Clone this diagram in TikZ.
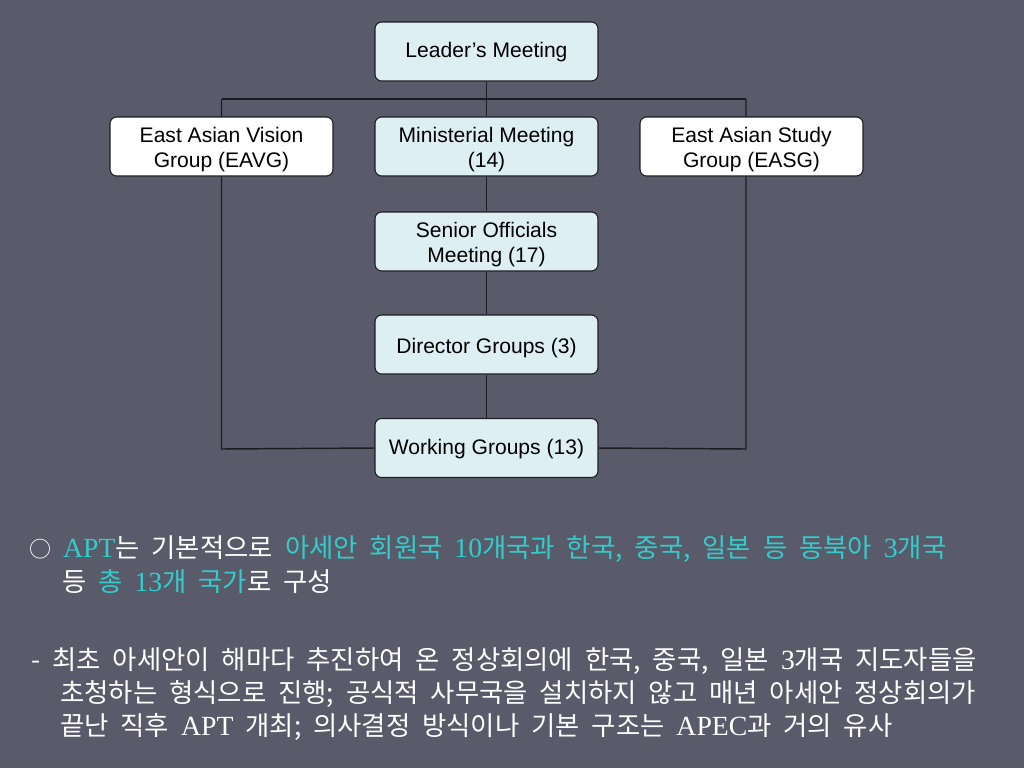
\documentclass[tikz,border=0pt]{standalone}
\usepackage{fontspec}
\setmainfont{Liberation Sans}
\newfontfamily\kr{Noto Sans CJK KR}
\newfontfamily\krl[Scale=1.05]{Liberation Serif}
\usetikzlibrary{backgrounds}
\definecolor{bg}{HTML}{595B6A}
\definecolor{lb}{HTML}{DDEFF2}
\definecolor{cy}{HTML}{33CCCC}
\definecolor{ln}{HTML}{1C1C22}
\newcommand\krfont{\kr\fontsize{19.8}{22}\selectfont\spaceskip 0.45em\relax}
\newcommand\upstrut{\rule{0pt}{16.4pt}}
\newcommand\smallstrut{\rule{0pt}{13pt}}
\newcommand\circmark{{\fontsize{16.5}{16.5}\selectfont ○}}
\begin{document}
\begin{tikzpicture}[x=0.75pt,y=-0.75pt,
  box/.style={draw=ln, line width=0.8pt, rounded corners=5pt, fill=lb,
    minimum width=167.25pt, minimum height=44.25pt, inner sep=0pt,
    align=center, font=\fontsize{15.8}{19}\selectfont, text=black},
  wbox/.style={box, fill=white},
  conn/.style={draw=ln, line width=1.1pt},
  txt/.style={anchor=base west, inner sep=0pt, text=white, font=\krfont}]
\useasboundingbox (0,0) rectangle (1024,768);
\node[box]  (lead) at (486.5,51.5)  {\smallstrut Leader’s Meeting};
\node[wbox] (eavg) at (221.5,146.5) {\upstrut East Asian Vision\\Group (EAVG)};
\node[box]  (mini) at (486.5,146.5) {\upstrut Ministerial Meeting\\(14)};
\node[wbox] (easg) at (751.5,146.5) {\upstrut East Asian Study\\Group (EASG)};
\node[box]  (som)  at (486.5,241.5) {\upstrut Senior Officials\\Meeting (17)};
\node[box]  (dir)  at (486.5,344.5) {\upstrut Director Groups (3)};
\node[box]  (wg)   at (486.5,448)   {\smallstrut Working Groups (13)};
\coordinate (bl) at (221.5,99);
\coordinate (bm) at (486.5,99);
\coordinate (br) at (746,99);
\coordinate (blb) at (221.5,449);
\coordinate (brb) at (746,449);
\begin{scope}[on background layer]
  \fill[bg] (0,0) rectangle (1024,768);
  \draw[conn] (bl) -- (br);
  \draw[conn] (lead.south) -- (bm) -- (mini.north);
  \draw[conn] (bl) -- (blb) -- (wg.west);
  \draw[conn] (br) -- (brb) -- (wg.east);
  \draw[conn] (mini.south) -- (som.north);
  \draw[conn] (som.south) -- (dir.north);
  \draw[conn] (dir.south) -- (wg.north);
\end{scope}
\node[txt] (t1) at (29,557) {\circmark{} \textcolor{cy}{{\krl APT}}는 기본적으로 \textcolor{cy}{아세안 회원국 {\krl 10}개국과 한국, 중국, 일본 등 동북아 {\krl 3}개국}};
\node[txt] (t2) at (62,591) {등 \textcolor{cy}{총 {\krl 13}개 국가}로 구성};
\node[txt] (t3) at (31,669) {- 최초 아세안이 해마다 추진하여 온 정상회의에 한국, 중국, 일본 {\krl 3}개국 지도자들을};
\node[txt] (t4) at (60,702) {초청하는 형식으로 진행; 공식적 사무국을 설치하지 않고 매년 아세안 정상회의가};
\node[txt] (t5) at (60,735) {끝난 직후 {\krl APT} 개최; 의사결정 방식이나 기본 구조는 {\krl APEC}과 거의 유사};
\end{tikzpicture}
\end{document}
